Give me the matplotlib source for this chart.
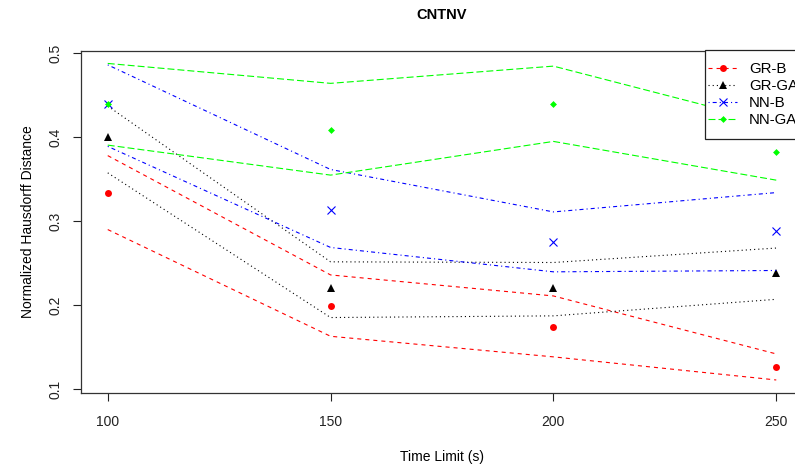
import matplotlib
matplotlib.use("Agg")
import matplotlib.pyplot as plt
from matplotlib.patches import Rectangle

plt.rcParams['font.family'] = ['Liberation Sans', 'DejaVu Sans']
plt.rcParams['lines.scale_dashes'] = False

time_limit = [100, 150, 200, 250]

# GR-B
grb_mid = [0.334, 0.199, 0.174, 0.126]
grb_hi = [0.378, 0.236, 0.211, 0.142]
grb_lo = [0.290, 0.163, 0.1385, 0.111]
# GR-GA
grga_mid = [0.400, 0.220, 0.220, 0.2385]
grga_hi = [0.437, 0.2516, 0.2508, 0.268]
grga_lo = [0.3575, 0.1853, 0.1873, 0.207]
# NN-B
nnb_mid = [0.439, 0.313, 0.2754, 0.2885]
nnb_hi = [0.486, 0.3615, 0.311, 0.334]
nnb_lo = [0.389, 0.2687, 0.2397, 0.2413]
# NN-GA
nnga_mid = [0.439, 0.409, 0.4397, 0.3825]
nnga_hi = [0.4877, 0.464, 0.4845, 0.416]
nnga_lo = [0.3905, 0.3548, 0.3949, 0.3488]

series = [
    ("GR-B", grb_mid, grb_hi, grb_lo, "#FF0000", (0, (2.9, 2.9)), "o", 5),
    ("GR-GA", grga_mid, grga_hi, grga_lo, "#000000", (0, (0.8, 2.2)), "^", 6),
    ("NN-B", nnb_mid, nnb_hi, nnb_lo, "#0000FF", (0, (0.8, 2.2, 2.9, 2.2)), "x", 6),
    ("NN-GA", nnga_mid, nnga_hi, nnga_lo, "#00FF00", (0, (5, 2.2)), "D", 3.5),
]

fig = plt.figure(figsize=(7.95, 4.68), dpi=100)
ax = fig.add_axes([81 / 795, 1 - 393 / 468, 722 / 795, 342 / 468])

handles = []
for name, mid, hi, lo, col, ls, mk, ms in series:
    ax.plot(time_limit, hi, color=col, linestyle=ls, lw=0.8)
    ax.plot(time_limit, lo, color=col, linestyle=ls, lw=0.8)
    ax.plot(time_limit, mid, linestyle='none', marker=mk, color=col, ms=ms,
            mew=0.8 if mk == "x" else 0)
    h, = ax.plot([], [], color=col, linestyle=ls, lw=0.8, marker=mk, ms=ms,
                 mew=0.8 if mk == "x" else 0)
    handles.append(h)

ax.set_xlim(94, 256)
ax.set_ylim(0.0955, 0.5025)
ax.set_xticks(time_limit)
ax.set_yticks([0.1, 0.2, 0.3, 0.4, 0.5])
ax.set_yticklabels(["0.1", "0.2", "0.3", "0.4", "0.5"], rotation=90, va='center')
ax.tick_params(direction='out', length=5.5, width=0.8, labelsize=10, colors='#222222')
ax.tick_params(axis='x', pad=10.5)
ax.tick_params(axis='y', pad=7.5)
for s in ax.spines.values():
    s.set_linewidth(0.9)
    s.set_color('#333333')

# legend box (white, drawn over the lines) and its entries
box = Rectangle((705 / 795, 1 - 139 / 468), 110 / 795, 89 / 468, transform=fig.transFigure,
                facecolor='white', edgecolor='#222222', lw=0.9, zorder=4.5, clip_on=False)
ax.add_patch(box)
leg = ax.legend(handles, [s[0] for s in series], loc='upper left',
                bbox_to_anchor=(705 / 795, 1 - 59 / 468), bbox_transform=fig.transFigure,
                fontsize=10.8, frameon=False, borderaxespad=0, borderpad=0.2,
                handlelength=1.95, handletextpad=0.8, labelspacing=0.2)

fig.text(442 / 795, 1 - 15 / 468, "CNTNV", ha='center', va='center',
         fontsize=10.5, fontweight='bold')
fig.text(442 / 795, 1 - 457 / 468, "Time Limit (s)", ha='center', va='center', fontsize=10)
fig.text(28 / 795, 1 - 222 / 468, "Normalized Hausdorff Distance", ha='center', va='center',
         rotation=90, fontsize=10)

fig.savefig("out.png", dpi=100)
